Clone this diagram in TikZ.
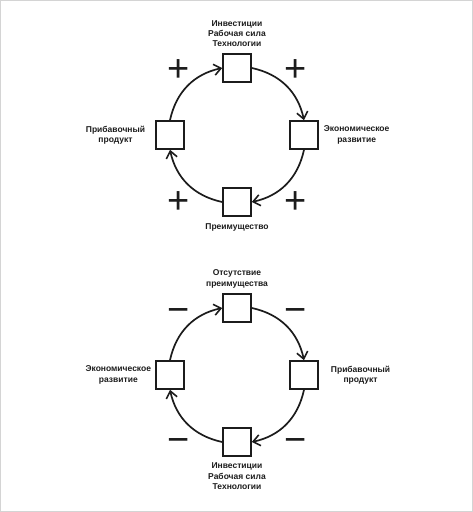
\documentclass[tikz,border=0pt]{standalone}
\usepackage{fontspec}
\setmainfont{Liberation Sans}
\usetikzlibrary{arrows.meta,positioning}
\definecolor{CycleInk}{HTML}{1C1C1C}
\definecolor{FrameGrey}{HTML}{D4D4D4}
\tikzset{
  cyclebox/.style={draw=CycleInk,line width=1.5pt,minimum size=28pt,inner sep=0pt,fill=white},
  cyclelabel/.style={align=center,font=\fontsize{8.5}{10.3}\selectfont\bfseries,text=CycleInk,inner sep=1pt},
  cyclearrow/.style={-{Straight Barb[length=7pt,width=11pt,line width=1.6pt]},line width=1.7pt,draw=CycleInk},
  signmark/.style={font=\fontsize{38}{38}\selectfont,text=CycleInk,inner sep=0pt,text height=26.6pt,text depth=0pt}
}

\begin{document}
\begin{tikzpicture}[x=1pt,y=1pt,node distance=5pt]
\useasboundingbox (0,0) rectangle (473,512);
\draw[FrameGrey,line width=1pt] (0.5,0.5) rectangle (472.5,511.5);
% positive loop
\node[cyclebox] (t1) at (237,444) {};
\node[cyclebox] (r1) at (304,377) {};
\node[cyclebox] (b1) at (237,310) {};
\node[cyclebox] (l1) at (170,377) {};
\node[cyclelabel,above=5pt of t1] (t1txt) {Инвестиции\\Рабочая сила\\Технологии};
\node[cyclelabel,right=4pt of r1] (r1txt) {Экономическое\\развитие};
\node[cyclelabel,below=6pt of b1] (b1txt) {Преимущество};
\node[cyclelabel,left=9pt of l1] (l1txt) {Прибавочный\\продукт};
\draw[cyclearrow] (l1.north) to[out=78,in=192] (t1.west);
\draw[cyclearrow] (t1.east) to[out=-12,in=102] (r1.north);
\draw[cyclearrow] (r1.south) to[out=-102,in=12] (b1.east);
\draw[cyclearrow] (b1.west) to[out=168,in=-78] (l1.south);
\node[signmark] (p1) at (178.5,444) {+};
\node[signmark] (p2) at (295.5,444) {+};
\node[signmark] (p3) at (178.5,312) {+};
\node[signmark] (p4) at (295.5,312) {+};
% negative loop
\node[cyclebox] (t2) at (237,204) {};
\node[cyclebox] (r2) at (304,137) {};
\node[cyclebox] (b2) at (237,70) {};
\node[cyclebox] (l2) at (170,137) {};
\node[cyclelabel,above=4pt of t2] (t2txt) {Отсутствие\\преимущества};
\node[cyclelabel,right=11pt of r2] (r2txt) {Прибавочный\\продукт};
\node[cyclelabel,below=5pt of b2] (b2txt) {Инвестиции\\Рабочая сила\\Технологии};
\node[cyclelabel,left=3pt of l2] (l2txt) {Экономическое\\развитие};
\draw[cyclearrow] (l2.north) to[out=78,in=192] (t2.west);
\draw[cyclearrow] (t2.east) to[out=-12,in=102] (r2.north);
\draw[cyclearrow] (r2.south) to[out=-102,in=12] (b2.east);
\draw[cyclearrow] (b2.west) to[out=168,in=-78] (l2.south);
\node[signmark] (m1) at (178.5,203) {−};
\node[signmark] (m2) at (295.5,203) {−};
\node[signmark] (m3) at (178.5,73) {−};
\node[signmark] (m4) at (295.5,73) {−};
\end{tikzpicture}
\end{document}
